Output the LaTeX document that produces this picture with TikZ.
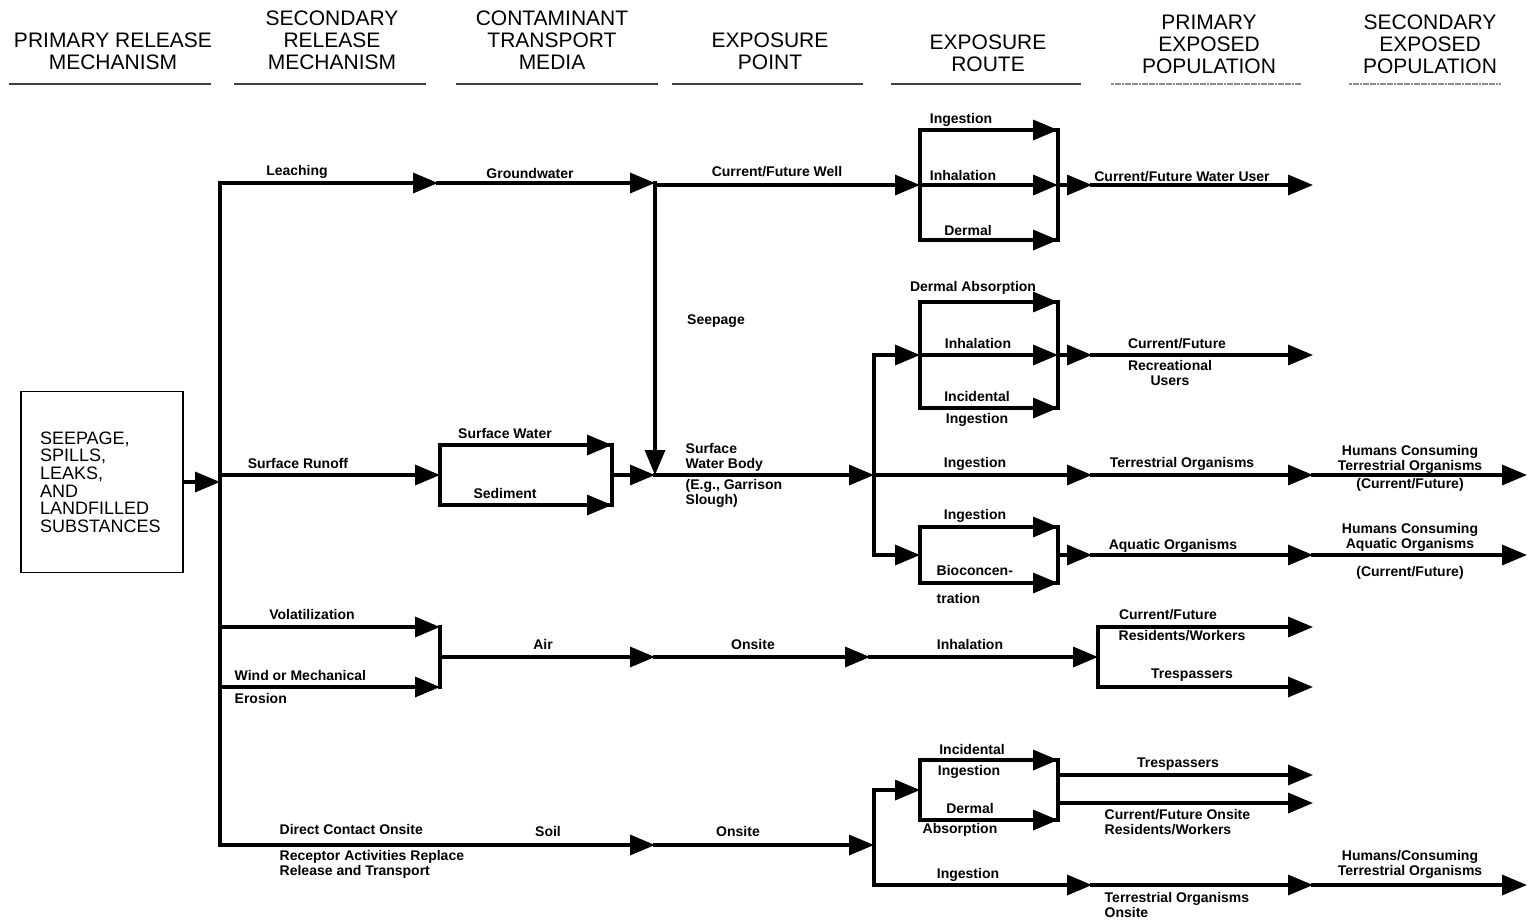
\documentclass[tikz,border=0pt]{standalone}
\usepackage{fontspec}
\setmainfont{Liberation Sans}
\usetikzlibrary{arrows.meta}

\begin{document}
\begin{tikzpicture}[x=0.5pt, y=-0.5pt, line width=1.7pt, line cap=rect,
  flow/.style={-{Triangle[length=12.5pt,width=10pt]}},
  lbl/.style={font=\fontsize{7}{7.5}\selectfont\bfseries, inner sep=0pt, align=center},
  head/.style={font=\fontsize{10.5}{11}\selectfont, align=center},
  route/.style={draw, minimum width=69pt, inner sep=0pt, outer sep=0pt}]

  \useasboundingbox (0,0) rectangle (1530,922);

  \node[head] (hPrm) at (113,51) {PRIMARY RELEASE\\MECHANISM};
  \node[head] (hSec) at (332,40) {SECONDARY\\RELEASE\\MECHANISM};
  \node[head] (hCtm) at (552,40) {CONTAMINANT\\TRANSPORT\\MEDIA};
  \node[head] (hPnt) at (770,51) {EXPOSURE\\POINT};
  \node[head] (hRte) at (988,53) {EXPOSURE\\ROUTE};
  \node[head] (hPep) at (1209,44) {PRIMARY\\EXPOSED\\POPULATION};
  \node[head] (hSep) at (1430,44) {SECONDARY\\EXPOSED\\POPULATION};
  \foreach \a/\b in {10/210,235/425,457/657,673/862,892/1080}
    \draw[line width=0.7pt, black!75] (\a,84) -- (\b,84);
  \foreach \a/\b in {1112/1300,1350/1500}
    \draw[line width=0.7pt, black!45, densely dotted] (\a,84) -- (\b,84);

  \node[draw, line width=0.6pt, minimum width=81pt, minimum height=90.5pt, text width=62pt,
        inner xsep=9.5pt, align=left, font=\fontsize{9}{8.8}\selectfont] (src) at (102,482)
        {SEEPAGE,\\SPILLS,\\LEAKS,\\AND\\LANDFILLED\\SUBSTANCES};

  \coordinate (busT) at (220,183);
  \coordinate (busR) at (220,475);
  \coordinate (busV) at (220,627);
  \coordinate (busW) at (220,687);
  \coordinate (busB) at (220,845);
  \draw (busT) -- (busB);
  \draw[flow] (src.east) -- (src.east -| busT);

  % groundwater
  \coordinate (gw) at (438,183);
  \coordinate (sp) at (655,183);
  \coordinate (swb) at (655,475);
  \node[route, minimum height=55pt] (rt1) at (989,185) {};
  \draw[flow] (busT) -- (gw);
  \draw[flow] (gw) -- (sp);
  \draw[flow] (sp) -- (sp |- rt1.west) -- (rt1.west);
  \draw[flow] (sp) -- (swb);
  \draw[flow] (rt1.north west) -- (rt1.north east);
  \draw[flow] (rt1.west) -- (rt1.east);
  \draw[flow] (rt1.south west) -- (rt1.south east);
  \coordinate (pe1) at (1092,185);
  \coordinate (end1) at (1313,185);
  \draw[flow] (rt1.east) -- (pe1);
  \draw[flow] (pe1) -- (end1);

  % surface water
  \node[route, minimum width=86pt, minimum height=30pt] (cw) at (526,475) {};
  \draw[flow] (busR) -- (cw.west);
  \draw[flow] (cw.north west) -- (cw.north east);
  \draw[flow] (cw.south west) -- (cw.south east);
  \draw[flow] (cw.east) -- (swb);
  \coordinate (j2) at (874,475);
  \coordinate (j2t) at (874,355);
  \coordinate (j2b) at (874,555);
  \draw[flow] (swb) -- (j2);
  \draw (j2t) -- (j2b);
  \node[route, minimum height=53pt] (rt2) at (989,355) {};
  \node[route, minimum height=28pt] (rt3) at (989,555) {};
  \draw[flow] (j2t) -- (rt2.west);
  \draw[flow] (j2b) -- (rt3.west);
  \draw[flow] (rt2.north west) -- (rt2.north east);
  \draw[flow] (rt2.west) -- (rt2.east);
  \draw[flow] (rt2.south west) -- (rt2.south east);
  \draw[flow] (rt3.north west) -- (rt3.north east);
  \draw[flow] (rt3.south west) -- (rt3.south east);
  \coordinate (pe2) at (1092,355);
  \coordinate (end2) at (1313,355);
  \draw[flow] (rt2.east) -- (pe2);
  \draw[flow] (pe2) -- (end2);
  \coordinate (pe3) at (1092,475);
  \coordinate (se3) at (1313,475);
  \coordinate (end3) at (1527,475);
  \draw[flow] (j2) -- (pe3);
  \draw[flow] (pe3) -- (se3);
  \draw[flow] (se3) -- (end3);
  \coordinate (pe4) at (1092,555);
  \coordinate (se4) at (1313,555);
  \coordinate (end4) at (1527,555);
  \draw[flow] (rt3.east) -- (pe4);
  \draw[flow] (pe4) -- (se4);
  \draw[flow] (se4) -- (end4);

  % air
  \coordinate (av) at (440,627);
  \coordinate (aw) at (440,687);
  \coordinate (air) at (440,657);
  \coordinate (ons) at (655,657);
  \coordinate (inh) at (870,657);
  \coordinate (pe5) at (1098,657);
  \coordinate (pe5t) at (1098,627);
  \coordinate (pe5b) at (1098,687);
  \draw[flow] (busV) -- (av);
  \draw[flow] (busW) -- (aw);
  \draw (av) -- (aw);
  \draw[flow] (air) -- (ons);
  \draw[flow] (ons) -- (inh);
  \draw[flow] (inh) -- (pe5);
  \draw (pe5t) -- (pe5b);
  \draw[flow] (pe5t) -- (1313,627);
  \draw[flow] (pe5b) -- (1313,687);

  % soil
  \coordinate (soil) at (655,845);
  \coordinate (j4) at (874,845);
  \coordinate (j4t) at (874,790);
  \coordinate (j4b) at (874,885);
  \node[route, minimum height=30pt] (rt4) at (989,790) {};
  \draw[flow] (busB) -- (soil);
  \draw[flow] (soil) -- (j4);
  \draw (j4t) -- (j4b);
  \draw[flow] (j4t) -- (rt4.west);
  \draw[flow] (rt4.north west) -- (rt4.north east);
  \draw[flow] (rt4.south west) -- (rt4.south east);
  \coordinate (x4a) at (1058,775);
  \coordinate (x4b) at (1058,803);
  \draw[flow] (x4a) -- (1313,775);
  \draw[flow] (x4b) -- (1313,803);
  \coordinate (pe6) at (1092,885);
  \coordinate (se6) at (1313,885);
  \coordinate (end6) at (1527,885);
  \draw[flow] (j4b) -- (pe6);
  \draw[flow] (pe6) -- (se6);
  \draw[flow] (se6) -- (end6);

  % labels
  \node[lbl] (lLeach) at (297,172) {Leaching};
  \node[lbl] (lGw) at (530,173) {Groundwater};
  \node[lbl] (lWell) at (777,172) {Current/Future Well};
  \node[lbl] (lSeep) at (716,321) {Seepage};
  \node[lbl] (lIng1) at (961,120) {Ingestion};
  \node[lbl] (lInh1) at (963,175) {Inhalation};
  \node[lbl] (lDer1) at (968,230) {Dermal};
  \node[lbl] (lUser) at (1182,177) {Current/Future Water User};
  \node[lbl] (lDerA2) at (973,288) {Dermal Absorption};
  \node[lbl] (lInh2) at (978,343) {Inhalation};
  \node[lbl] (lInc2) at (977,396) {Incidental};
  \node[lbl] (lIngB2) at (977,420) {Ingestion};
  \node[lbl] (lRec) at (1177,344) {Current/Future};
  \node[lbl] (lRecU) at (1170,373) {Recreational\\Users};
  \node[lbl] (lRun) at (298,463) {Surface Runoff};
  \node[lbl] (lSw) at (505,433) {Surface Water};
  \node[lbl] (lSed) at (505,493) {Sediment};
  \node[lbl, anchor=west, align=left] (lSwb) at (684,457) {Surface\\Water Body};
  \node[lbl, anchor=west, align=left] (lGar) at (684,493) {(E.g., Garrison\\Slough)};
  \node[lbl] (lIng3) at (975,464) {Ingestion};
  \node[lbl] (lTer) at (1182,464) {Terrestrial Organisms};
  \node[lbl] (lHumT) at (1410,459) {Humans Consuming\\Terrestrial Organisms};
  \node[lbl] (lCfT) at (1410,485) {(Current/Future)};
  \node[lbl] (lIng4) at (975,516) {Ingestion};
  \node[lbl, anchor=west] (lBio) at (935,570) {Bioconcen-};
  \node[lbl, anchor=west] (lTra) at (935,598) {tration};
  \node[lbl] (lAqu) at (1173,546) {Aquatic Organisms};
  \node[lbl] (lHumA) at (1410,537) {Humans Consuming\\Aquatic Organisms};
  \node[lbl] (lCfA) at (1410,573) {(Current/Future)};
  \node[lbl] (lVol) at (312,614) {Volatilization};
  \node[lbl, anchor=west] (lWind) at (233,675) {Wind or Mechanical};
  \node[lbl, anchor=west] (lEro) at (233,698) {Erosion};
  \node[lbl] (lAir) at (543,644) {Air};
  \node[lbl] (lOns5) at (753,644) {Onsite};
  \node[lbl] (lInh5) at (970,644) {Inhalation};
  \node[lbl] (lRes5) at (1168,615) {Current/Future};
  \node[lbl] (lRes5b) at (1182,636) {Residents/Workers};
  \node[lbl] (lTre5) at (1192,675) {Trespassers};
  \node[lbl, anchor=west] (lDir) at (278,829) {Direct Contact Onsite};
  \node[lbl, anchor=west, align=left] (lRep) at (278,864) {Receptor Activities Replace\\Release and Transport};
  \node[lbl] (lSoil) at (548,831) {Soil};
  \node[lbl] (lOns6) at (738,831) {Onsite};
  \node[lbl] (lInc6) at (972,749) {Incidental};
  \node[lbl] (lIng6) at (969,772) {Ingestion};
  \node[lbl] (lDer6) at (970,808) {Dermal};
  \node[lbl] (lAbs6) at (960,830) {Absorption};
  \node[lbl] (lTre6) at (1178,764) {Trespassers};
  \node[lbl, anchor=west, align=left] (lRes6) at (1103,822) {Current/Future Onsite\\Residents/Workers};
  \node[lbl] (lIng7) at (968,875) {Ingestion};
  \node[lbl, anchor=west, align=left] (lTer7) at (1103,905) {Terrestrial Organisms\\Onsite};
  \node[lbl] (lHum7) at (1410,864) {Humans/Consuming\\Terrestrial Organisms};
\end{tikzpicture}
\end{document}
